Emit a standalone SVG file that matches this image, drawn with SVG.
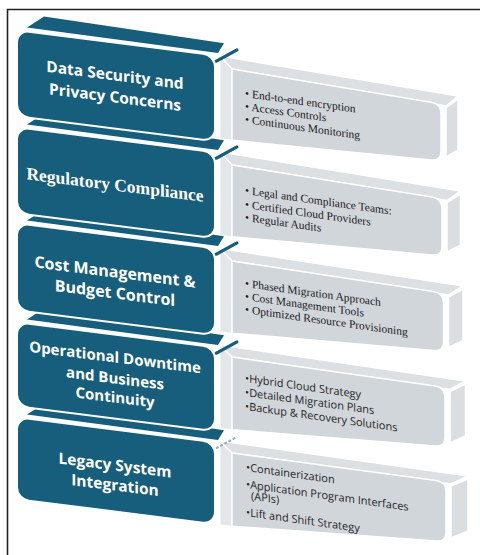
<svg xmlns="http://www.w3.org/2000/svg" width="480" height="555" viewBox="0 0 480 555">
  <style>
    .frame { fill: none; stroke: #222; stroke-width: 1.6; }
    .lid { fill: #175d7c; }
    .front { fill: #175d7c; stroke: #fff; stroke-width: 2; }
    .edge { fill: none; stroke: #175d7c; stroke-width: 3; stroke-linecap: round; }
    .edge-faint { fill: none; stroke: #8fb0c0; stroke-width: 2; stroke-dasharray: 3 2; }
    .title { fill: #fff; font-family: "Open Sans", "Liberation Sans", sans-serif; font-weight: 700; text-anchor: middle; }
    .title-serif { fill: #fff; font-family: "Liberation Serif", serif; font-weight: 700; text-anchor: middle; font-size: 17.5px; }
    .g-top { fill: #dce0e3; stroke: #fff; stroke-width: 1.5; }
    .g-wall { fill: #e4e7e9; stroke: #fff; stroke-width: 1; }
    .g-front { fill: #d1d6da; stroke: #fff; stroke-width: 1.5; }
    .g-side { fill: #dadee1; stroke: #fff; stroke-width: 1.5; }
    .item-serif { fill: #1a1a1a; font-family: "Liberation Serif", serif; font-size: 11.5px; }
    .item-sans { fill: #262626; font-family: "Open Sans", "Liberation Sans", sans-serif; font-size: 11px; }
  </style>

  <!-- page frame: left and top rules -->
  <path class="frame" d="M7.5,555 V9.5 H480"/>

  <!-- grey solution boxes (drawn first, behind the blue blocks) -->
  <g id="box-1">
    <polygon class="g-top" points="220,56 458,96 446,106 232,69"/>
    <polygon class="g-wall" points="220,57 232,69 232,140 220,139"/>
    <path class="g-front" d="M232,69 L431,102.3 Q441,104 441,114 L441,151 Q441,161 431,160 L232,140.2 Z"/>
    <polygon class="g-side" points="446,108 458,99 458,150 446,157"/>
    <g transform="translate(245,97) skewY(8)">
      <text class="item-serif" x="0" y="0">• End-to-end encryption</text>
      <text class="item-serif" x="0" y="13">• Access Controls</text>
      <text class="item-serif" x="0" y="26">• Continuous Monitoring</text>
    </g>
  </g>

  <g id="box-2">
    <polygon class="g-top" points="220,152 460.5,191 447,200.5 232,165"/>
    <polygon class="g-wall" points="220,153 232,165 232,236.7 220,235.5"/>
    <path class="g-front" d="M232,165 L432,196.9 Q442,198.5 442,208.5 L442,246 Q442,256 432,255 L232,236.7 Z"/>
    <polygon class="g-side" points="447,202.5 460.5,194 460.5,245 447,252"/>
    <g transform="translate(245,194) skewY(8)">
      <text class="item-serif" x="0" y="0">• Legal and Compliance Teams:</text>
      <text class="item-serif" x="0" y="14">• Certified Cloud Providers</text>
      <text class="item-serif" x="0" y="27">• Regular Audits</text>
    </g>
  </g>

  <g id="box-3">
    <polygon class="g-top" points="220,248.5 463,286 448.5,295 232,261"/>
    <polygon class="g-wall" points="220,249.5 232,261 232,333.2 220,332"/>
    <path class="g-front" d="M232,261 L433.5,291.5 Q443.5,293 443.5,303 L443.5,341.5 Q443.5,351.5 433.5,350.5 L232,333.2 Z"/>
    <polygon class="g-side" points="448.5,297 463,289 463,340.5 448.5,347.5"/>
    <g transform="translate(245,287) skewY(8)">
      <text class="item-serif" x="0" y="0">• Phased Migration Approach</text>
      <text class="item-serif" x="0" y="13">• Cost Management Tools</text>
      <text class="item-serif" x="0" y="26">• Optimized Resource Provisioning</text>
    </g>
  </g>

  <g id="box-4">
    <polygon class="g-top" points="220,345 465.5,381 450,389.5 232,357"/>
    <polygon class="g-wall" points="220,346 232,357 232,429.7 220,428.5"/>
    <path class="g-front" d="M232,357 L435,386 Q445,387.5 445,397.5 L445,437 Q445,447 435,446 L232,429.7 Z"/>
    <polygon class="g-side" points="450,391.5 465.5,384 465.5,436 450,443"/>
    <g transform="translate(245,382) skewY(8)">
      <text class="item-sans" x="0" y="0">•Hybrid Cloud Strategy</text>
      <text class="item-sans" x="0" y="14">•Detailed Migration Plans</text>
      <text class="item-sans" x="0" y="28">•Backup &amp; Recovery Solutions</text>
    </g>
  </g>

  <g id="box-5">
    <polygon class="g-top" points="220,441 468,476 451,484 232,453"/>
    <polygon class="g-wall" points="220,442 232,453 232,526.2 220,525"/>
    <path class="g-front" d="M232,453 L436,480.6 Q446,482 446,492 L446,532 Q446,542 436,541 L232,526.2 Z"/>
    <polygon class="g-side" points="451,486 468,479 468,531 451,538"/>
    <g transform="translate(246,471) skewY(8)">
      <text class="item-sans" x="0" y="0">•Containerization</text>
      <text class="item-sans" x="0" y="17">•Application Program Interfaces</text>
      <text class="item-sans" x="5" y="28">(APIs)</text>
      <text class="item-sans" x="0" y="45">•Lift and Shift Strategy</text>
    </g>
  </g>

  <!-- blue challenge blocks, lowest first so each upper block covers the lid below it -->
  <g id="block-5" transform="skewY(7.2)">
    <polygon class="lid" points="27,411 44,398 224,402 218,412.5"/>
    <line class="edge-faint" x1="216" y1="421" x2="237" y2="407"/>
    <rect class="front" x="17" y="415" width="198" height="82" rx="12"/>
    <text class="title" font-size="15.5" x="115" y="456">Legacy System</text>
    <text class="title" font-size="15.5" x="115" y="476">Integration</text>
  </g>

  <g id="block-4" transform="skewY(7.2)">
    <polygon class="lid" points="27,316 44,303 224,307 218,317.5"/>
    <line class="edge" x1="216" y1="326" x2="237" y2="312"/>
    <rect class="front" x="17" y="320" width="198" height="84" rx="12"/>
    <text class="title" font-size="15" x="115" y="348">Operational Downtime</text>
    <text class="title" font-size="15" x="115" y="369">and Business</text>
    <text class="title" font-size="15" x="115" y="388">Continuity</text>
  </g>

  <g id="block-3" transform="skewY(7.2)">
    <polygon class="lid" points="27,217 44,204 224,208 218,218.5"/>
    <line class="edge" x1="216" y1="227" x2="237" y2="213"/>
    <rect class="front" x="17" y="221" width="198" height="87" rx="12"/>
    <text class="title" font-size="16" x="115" y="263">Cost Management &amp;</text>
    <text class="title" font-size="16" x="115" y="284">Budget Control</text>
  </g>

  <g id="block-2" transform="skewY(7.2)">
    <polygon class="lid" points="27,121 44,108 224,112 218,122.5"/>
    <line class="edge" x1="216" y1="131" x2="237" y2="117"/>
    <rect class="front" x="17" y="125" width="198" height="86" rx="12"/>
    <text class="title-serif" x="115" y="176">Regulatory Compliance</text>
  </g>

  <g id="block-1" transform="skewY(7.2)">
    <polygon class="lid" points="27,24 44,11 224,15 218,25.5"/>
    <line class="edge" x1="216" y1="34" x2="237" y2="20"/>
    <rect class="front" x="17" y="28" width="198" height="86" rx="12"/>
    <text class="title" font-size="15.5" x="115" y="66">Data Security and</text>
    <text class="title" font-size="15.5" x="115" y="88">Privacy Concerns</text>
  </g>
</svg>
